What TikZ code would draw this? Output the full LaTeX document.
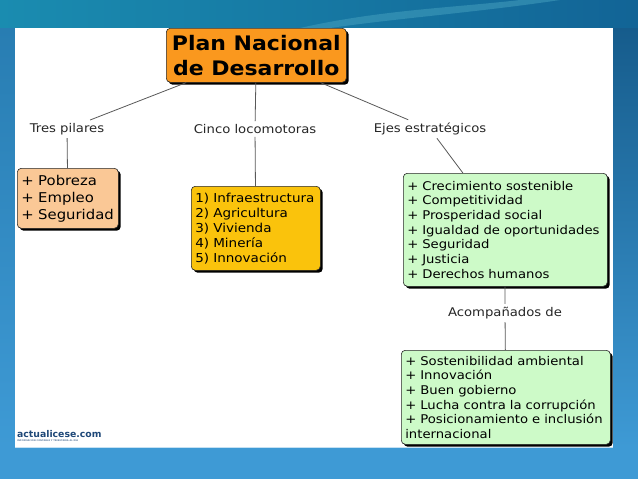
\documentclass[tikz,border=0pt]{standalone}
\usepackage{fontspec}
\setmainfont[FakeStretch=1.1]{DejaVu Sans}
\newfontfamily\logofont{DejaVu Sans}
\usetikzlibrary{positioning,shadows}
\definecolor{TitleOrange}{RGB}{250,152,30}
\definecolor{PeachFill}{RGB}{250,200,150}
\definecolor{GoldFill}{RGB}{250,195,12}
\definecolor{MintFill}{RGB}{205,250,200}
\definecolor{LogoBlue}{RGB}{30,72,120}
\definecolor{SkyTop}{RGB}{26,140,176}
\definecolor{SkyTopDark}{RGB}{18,100,150}
\definecolor{SideLeft}{RGB}{40,125,178}
\definecolor{SideRight}{RGB}{22,92,140}
\definecolor{BottomBlue}{RGB}{62,154,213}
\tikzset{
  mapbox/.style={draw=black!85,line width=0.6pt,rounded corners=4pt,
    anchor=north west,align=left,inner xsep=4pt,inner ysep=2pt,
    font=\fontsize{12}{14.7}\selectfont,
    drop shadow={shadow xshift=2.4pt,shadow yshift=-2.4pt,opacity=1,fill=black}},
  titlebox/.style={mapbox,fill=TitleOrange,align=center,
    minimum width=180pt,minimum height=54pt,
    font=\fontsize{20}{25}\selectfont\bfseries},
  linklabel/.style={font=\fontsize{12}{14}\selectfont,text=black!85,inner sep=3pt},
  maplink/.style={draw=black!65,line width=0.8pt},
}
\begin{document}
\begin{tikzpicture}[x=1pt,y=-1pt]
  \useasboundingbox (0,0) rectangle (638,479);
  % slide background
  \shade[left color=SkyTop,right color=SkyTopDark] (0,0) rectangle (638,28);
  \shade[top color=SideLeft,bottom color=BottomBlue] (0,28) rectangle (15,447);
  \shade[top color=SideRight,bottom color=BottomBlue] (613,28) rectangle (638,447);
  \fill[BottomBlue] (0,447) rectangle (638,479);
  \fill[white!20!SkyTop,opacity=0.5] (300,28) .. controls (380,10) and (450,8) .. (520,0)
    -- (560,0) .. controls (480,12) and (400,18) .. (330,28) -- cycle;
  \fill[white] (15,28) rectangle (613,447);
  \draw[white!70!BottomBlue,line width=1pt] (15,447.5) -- (613,447.5);

  % concept nodes
  \node[titlebox] (plan) at (166,28) {Plan Nacional\\de Desarrollo};
  \node[linklabel] (tres) at (67,129) {Tres pilares};
  \node[linklabel] (cinco) at (255,129) {Cinco locomotoras};
  \node[linklabel] (ejes) at (430,129) {Ejes estratégicos};
  \node[mapbox,fill=PeachFill,font=\fontsize{13.5}{17}\selectfont,
    text width=93pt,minimum height=60pt] (pilares) at (17,168)
    {+ Pobreza\\+ Empleo\\+ Seguridad};
  \node[mapbox,fill=GoldFill,font=\fontsize{12.3}{15}\selectfont,
    text width=121pt,minimum height=84pt] (locos) at (191,186)
    {1) Infraestructura\\2) Agricultura\\3) Vivienda\\4) Minería\\5) Innovación};
  \node[mapbox,fill=MintFill,text width=196pt,minimum height=113pt] (ejesbox) at (403,173)
    {+ Crecimiento sostenible\\+ Competitividad\\+ Prosperidad social\\
     + Igualdad de oportunidades\\+ Seguridad\\+ Justicia\\+ Derechos humanos};
  \node[linklabel] (acomp) at (505,313) {Acompañados de};
  \node[mapbox,fill=MintFill,text width=201pt,minimum height=94pt] (extra) at (401,350)
    {+ Sostenibilidad ambiental\\+ Innovación\\+ Buen gobierno\\
     + Lucha contra la corrupción\\+ Posicionamiento e inclusión\\internacional};

  % links
  \draw[maplink] (plan) -- (tres);
  \draw[maplink] (plan) -- (cinco);
  \draw[maplink] (plan) -- (ejes);
  \draw[maplink] (tres) -- (pilares);
  \draw[maplink] (cinco) -- (locos);
  \draw[maplink] (ejes) -- (ejesbox);
  \draw[maplink] (ejesbox) -- (acomp);
  \draw[maplink] (acomp) -- (extra);

  % logo
  \node[anchor=base west,inner sep=0pt,text=LogoBlue,
    font=\logofont\fontsize{9.3}{11}\selectfont\bfseries] (logo) at (17,437) {actualicese.com};
  \node[anchor=north west,inner sep=0pt,text=LogoBlue!70,
    font=\logofont\fontsize{2.3}{3}\selectfont\bfseries] (lema) at (17,439.5)
    {INFORMACIÓN CONTABLE Y TRIBUTARIA AL DÍA};
\end{tikzpicture}
\end{document}
